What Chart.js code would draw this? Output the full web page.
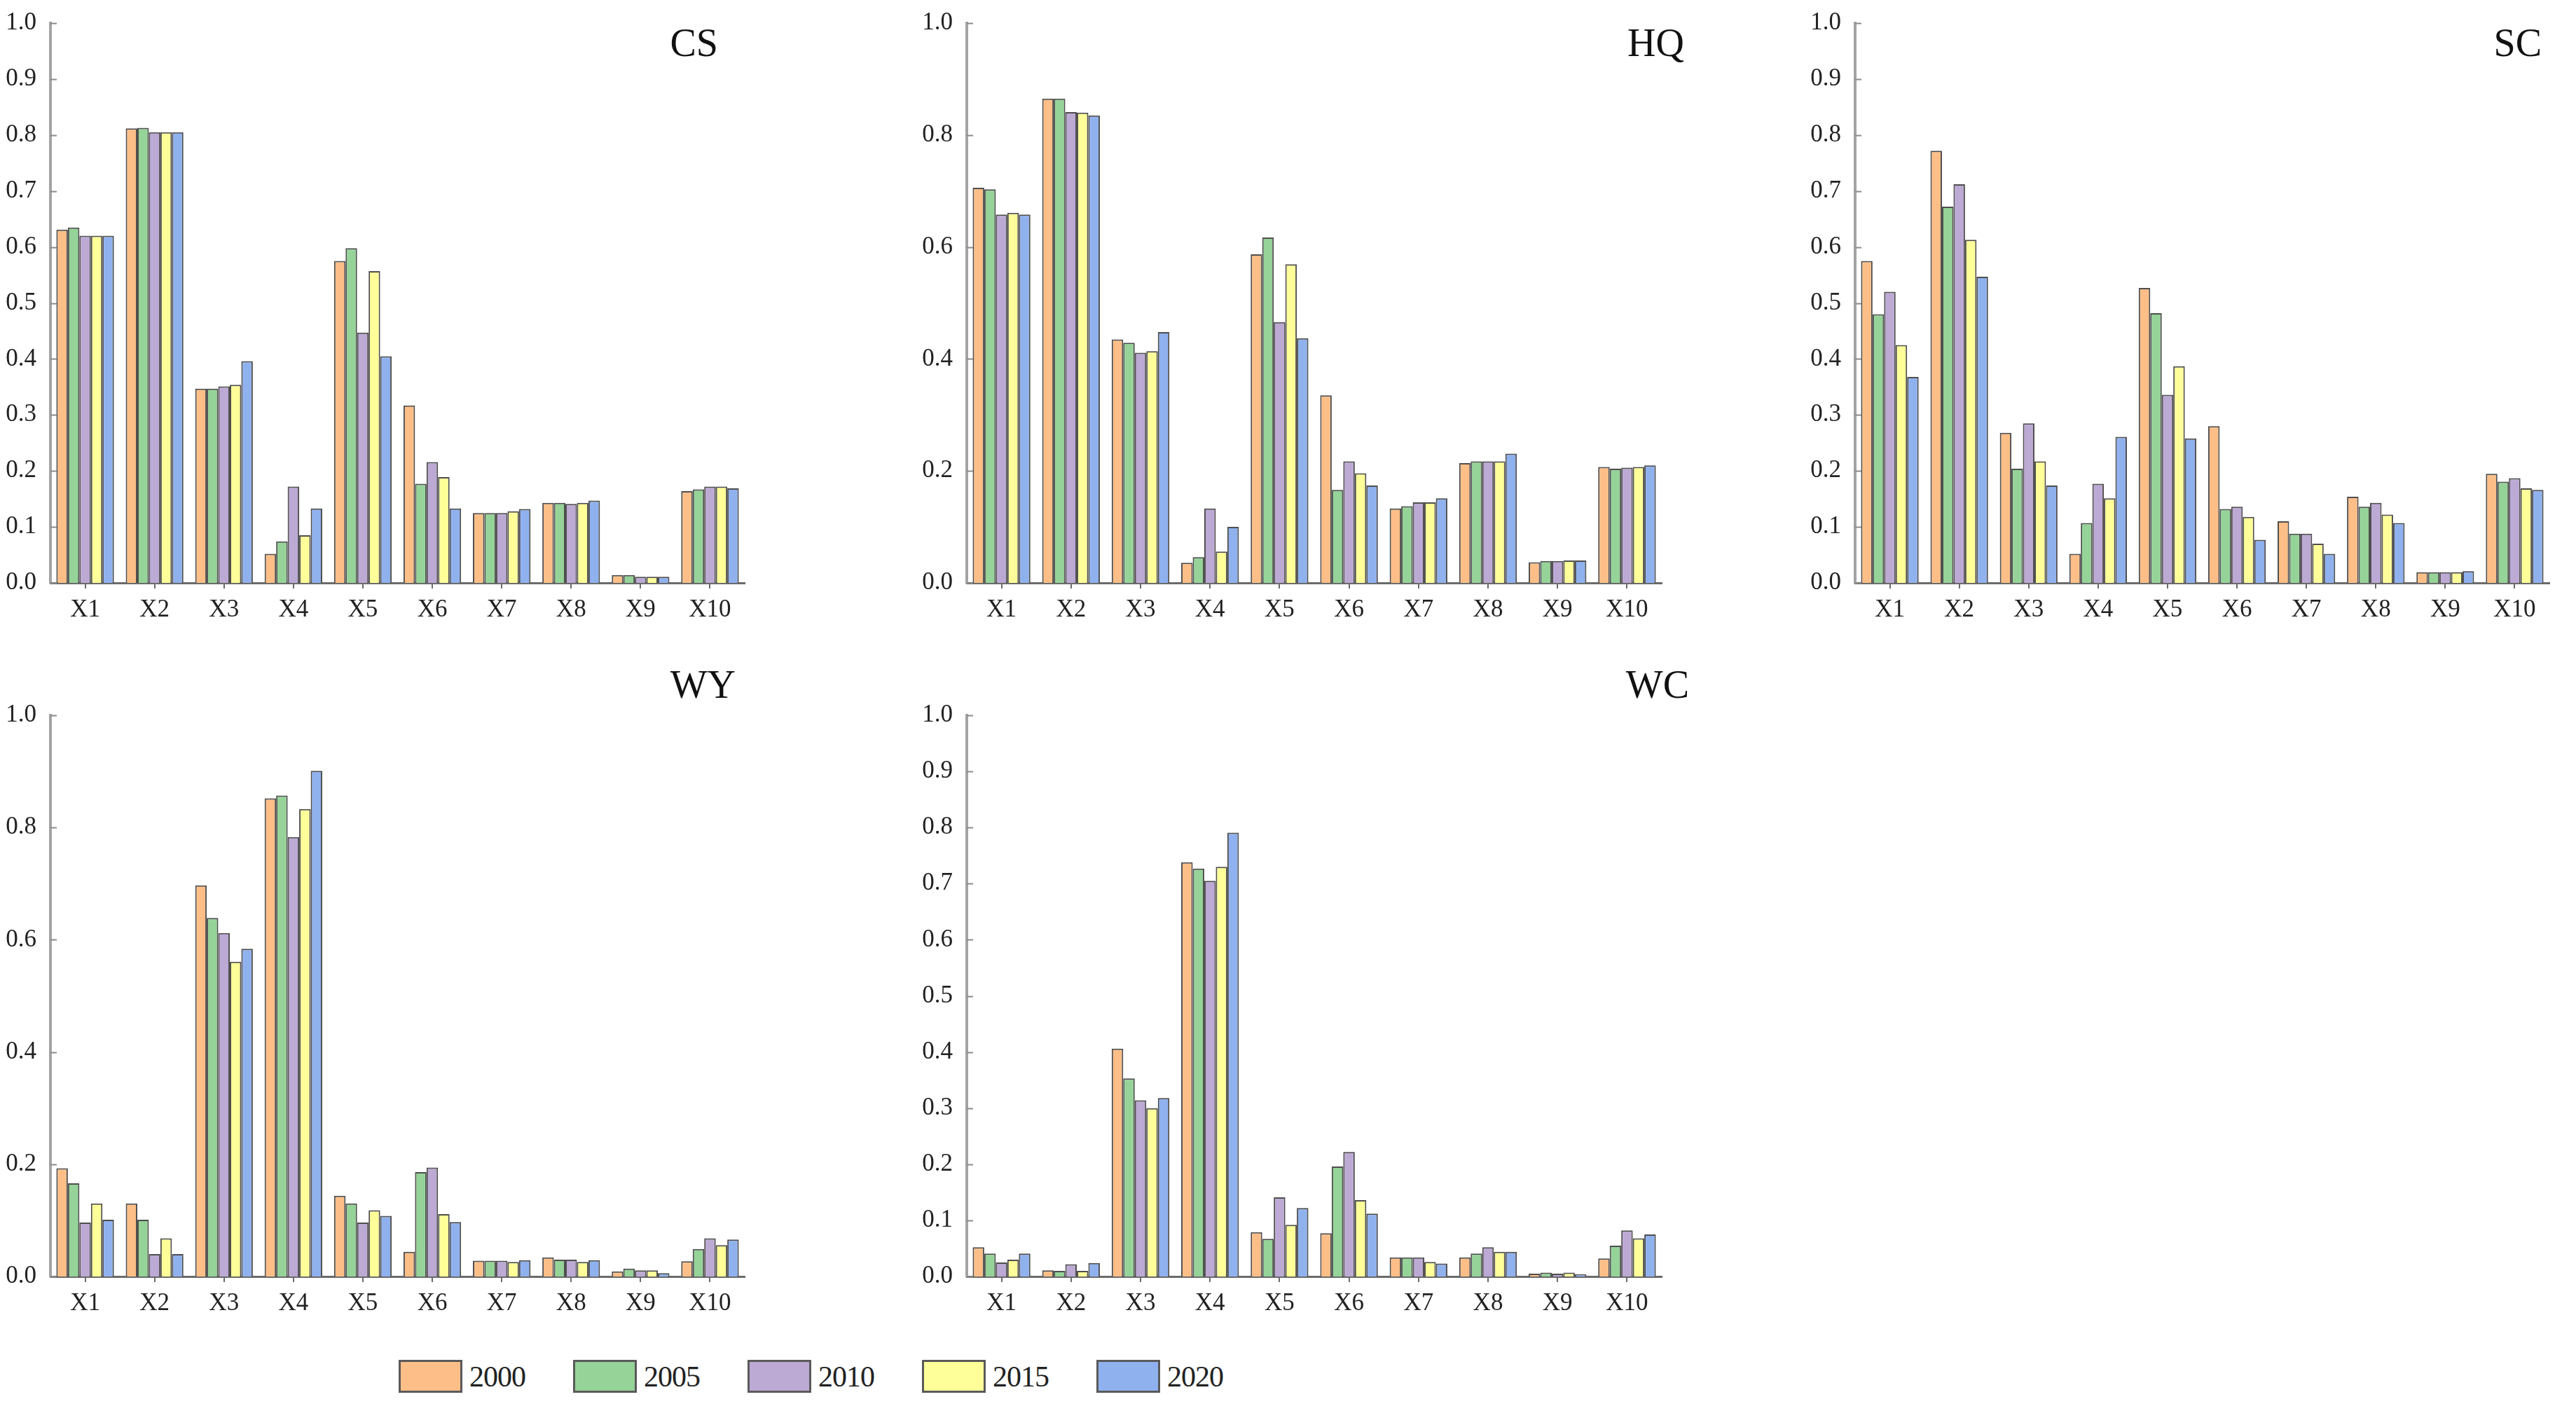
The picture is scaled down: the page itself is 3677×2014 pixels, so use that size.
<!DOCTYPE html>
<html>
<head>
<meta charset="utf-8">
<script src="https://cdn.jsdelivr.net/npm/chart.js@4.4.1/dist/chart.umd.min.js"></script>
<style>
  html, body { margin: 0; padding: 0; background: #fff; }
  body { width: 3677px; height: 2014px; position: relative; overflow: hidden; }
  canvas { position: absolute; }
  .legend-item { position: absolute; top: 1941px; height: 47px; display: flex; align-items: center; }
  .legend-box { width: 85px; height: 41px; border: 3px solid #5a5a5a; }
  .legend-text { margin-left: 10px; font: 42px "Liberation Serif", serif; color: #222; letter-spacing: -1px; }
</style>
</head>
<body>
<canvas id="cs"></canvas>
<canvas id="hq"></canvas>
<canvas id="sc"></canvas>
<canvas id="wy"></canvas>
<canvas id="wc"></canvas>
<div id="legend"></div>
<script>
const categories = ["X1", "X2", "X3", "X4", "X5", "X6", "X7", "X8", "X9", "X10"];
const years = ["2000", "2005", "2010", "2015", "2020"];
const yearColors = ["#fdbf87", "#95d398", "#bca9d4", "#ffff99", "#8fb1ee"];

// one row per year, one value per factor
const csData = [
  [0.631, 0.812, 0.347, 0.052, 0.575, 0.317, 0.125, 0.143, 0.014, 0.164],
  [0.635, 0.813, 0.347, 0.074, 0.598, 0.177, 0.125, 0.143, 0.014, 0.167],
  [0.620, 0.805, 0.351, 0.172, 0.447, 0.216, 0.125, 0.141, 0.011, 0.172],
  [0.620, 0.805, 0.354, 0.085, 0.557, 0.189, 0.128, 0.143, 0.011, 0.172],
  [0.620, 0.805, 0.396, 0.133, 0.405, 0.133, 0.132, 0.147, 0.011, 0.169],
];
const hqData = [
  [0.706, 0.865, 0.435, 0.036, 0.587, 0.335, 0.133, 0.214, 0.037, 0.207],
  [0.703, 0.865, 0.429, 0.046, 0.617, 0.166, 0.137, 0.217, 0.039, 0.204],
  [0.658, 0.841, 0.411, 0.133, 0.466, 0.217, 0.144, 0.217, 0.039, 0.206],
  [0.661, 0.840, 0.414, 0.056, 0.569, 0.196, 0.144, 0.217, 0.040, 0.207],
  [0.658, 0.835, 0.448, 0.100, 0.437, 0.174, 0.151, 0.231, 0.040, 0.210],
];
const scData = [
  [0.575, 0.772, 0.268, 0.052, 0.527, 0.280, 0.110, 0.154, 0.019, 0.195],
  [0.480, 0.672, 0.204, 0.107, 0.482, 0.132, 0.088, 0.136, 0.019, 0.181],
  [0.520, 0.712, 0.285, 0.177, 0.336, 0.136, 0.088, 0.143, 0.019, 0.187],
  [0.425, 0.613, 0.217, 0.151, 0.387, 0.118, 0.070, 0.122, 0.019, 0.169],
  [0.368, 0.547, 0.174, 0.261, 0.258, 0.077, 0.052, 0.107, 0.021, 0.166],
];
const wyData = [
  [0.193, 0.130, 0.697, 0.852, 0.144, 0.044, 0.028, 0.034, 0.009, 0.027],
  [0.166, 0.101, 0.639, 0.857, 0.130, 0.186, 0.028, 0.030, 0.014, 0.049],
  [0.096, 0.040, 0.612, 0.783, 0.096, 0.194, 0.028, 0.030, 0.011, 0.068],
  [0.130, 0.068, 0.561, 0.833, 0.118, 0.111, 0.026, 0.026, 0.011, 0.056],
  [0.101, 0.040, 0.584, 0.901, 0.108, 0.097, 0.029, 0.029, 0.006, 0.066],
];
const wcData = [
  [0.052, 0.011, 0.406, 0.738, 0.079, 0.077, 0.034, 0.034, 0.005, 0.032],
  [0.041, 0.010, 0.353, 0.727, 0.067, 0.196, 0.034, 0.041, 0.007, 0.055],
  [0.025, 0.022, 0.314, 0.705, 0.141, 0.222, 0.034, 0.052, 0.005, 0.082],
  [0.030, 0.010, 0.300, 0.730, 0.092, 0.136, 0.026, 0.044, 0.007, 0.068],
  [0.041, 0.024, 0.318, 0.791, 0.122, 0.112, 0.023, 0.044, 0.004, 0.075],
];

const FONT = '"Liberation Serif", "Times New Roman", serif';
const AXIS_W = 90, AXIS_H = 80, PAD_TOP = 80, PAD_RIGHT = 70;

// draws the panel name and the short inward y ticks
const panelDecor = {
  id: "panelDecor",
  afterDraw(chart, args, opts) {
    const { ctx, chartArea, scales } = chart;
    ctx.save();
    ctx.strokeStyle = "#8a8a8a";
    ctx.lineWidth = 2;
    scales.y.ticks.forEach((t) => {
      const y = Math.round(scales.y.getPixelForValue(t.value)) + 0.5;
      ctx.beginPath();
      ctx.moveTo(chartArea.left, y);
      ctx.lineTo(chartArea.left + 9, y);
      ctx.stroke();
    });
    ctx.fillStyle = "#111";
    ctx.font = "56px " + FONT;
    ctx.textAlign = "right";
    ctx.textBaseline = "alphabetic";
    ctx.fillText(opts.text, opts.x, opts.y);
    ctx.restore();
  },
};

function makePanel(id, rows, step, box, title) {
  const canvas = document.getElementById(id);
  const w = AXIS_W + (box.right - box.left) + PAD_RIGHT;
  const h = PAD_TOP + (box.bottom - box.top) + AXIS_H;
  const ox = box.left - AXIS_W;
  const oy = box.top - PAD_TOP;
  canvas.width = w;
  canvas.height = h;
  canvas.style.left = ox + "px";
  canvas.style.top = oy + "px";
  canvas.style.width = w + "px";
  canvas.style.height = h + "px";

  return new Chart(canvas, {
    type: "bar",
    data: {
      labels: categories,
      datasets: years.map((yr, i) => ({
        label: yr,
        data: rows[i],
        backgroundColor: yearColors[i],
        borderColor: "#4e4e4e",
        borderWidth: 2,
        categoryPercentage: 0.83,
        barPercentage: 1.0,
      })),
    },
    options: {
      responsive: false,
      animation: false,
      devicePixelRatio: 1,
      layout: { autoPadding: false, padding: { top: PAD_TOP, right: PAD_RIGHT, left: 0, bottom: 0 } },
      plugins: {
        legend: { display: false },
        tooltip: { enabled: false },
        panelDecor: { text: title.text, x: title.right - ox, y: title.baseline - oy },
      },
      scales: {
        x: {
          afterFit: (s) => { s.height = AXIS_H; },
          grid: { display: true, drawOnChartArea: false, offset: false, color: "#6b6b6b", lineWidth: 2, tickLength: 8 },
          border: { color: "#6b6b6b", width: 3 },
          ticks: { color: "#222", padding: 10, font: { family: FONT, size: 35 } },
        },
        y: {
          min: 0,
          max: 1,
          afterFit: (s) => { s.width = AXIS_W; },
          grid: { display: false },
          border: { color: "#a3a3a3", width: 4 },
          ticks: {
            stepSize: step,
            color: "#222",
            padding: 12,
            font: { family: FONT, size: 35 },
            callback: (v) => v.toFixed(1),
          },
        },
      },
    },
    plugins: [panelDecor],
  });
}

makePanel("cs", csData, 0.1, { left: 72, top: 33, right: 1063, bottom: 832 }, { text: "CS", right: 1025, baseline: 80 });
makePanel("hq", hqData, 0.2, { left: 1380, top: 33, right: 2372, bottom: 832 }, { text: "HQ", right: 2404, baseline: 80 });
makePanel("sc", scData, 0.1, { left: 2648, top: 33, right: 3639, bottom: 832 }, { text: "SC", right: 3628, baseline: 80 });
makePanel("wy", wyData, 0.2, { left: 72, top: 1021, right: 1063, bottom: 1822 }, { text: "WY", right: 1050, baseline: 996 });
makePanel("wc", wcData, 0.1, { left: 1380, top: 1021, right: 2372, bottom: 1822 }, { text: "WC", right: 2411, baseline: 996 });

// shared legend under the lower panels
const legendEl = document.getElementById("legend");
years.forEach((yr, i) => {
  const item = document.createElement("div");
  item.className = "legend-item";
  item.style.left = 569 + i * 249 + "px";
  item.innerHTML = `<div class="legend-box" style="background:${yearColors[i]}"></div><span class="legend-text">${yr}</span>`;
  legendEl.appendChild(item);
});
</script>
</body>
</html>
